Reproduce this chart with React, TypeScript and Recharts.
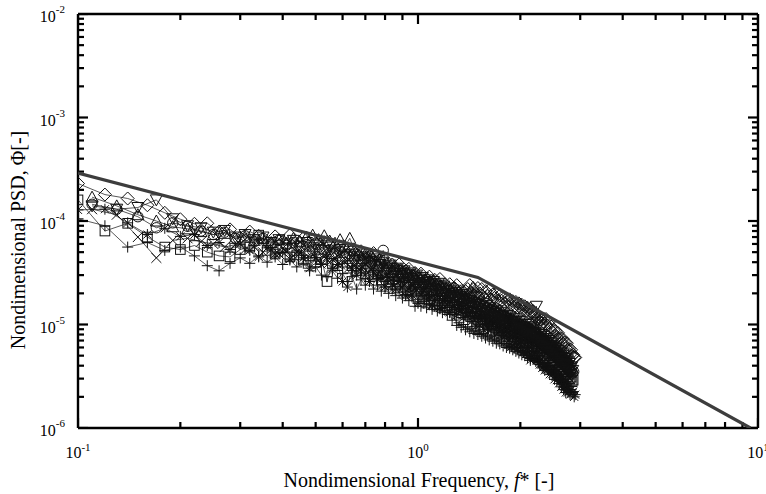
import React from 'react';
import { ComposedChart, Scatter, XAxis, YAxis } from 'recharts';

const FONT = '"Liberation Serif", "Times New Roman", "DejaVu Serif", serif';

// ---------- frequency grids (nondimensional frequency f*) ----------
const freqEven = [0.10,0.12,0.14,0.16,0.18,0.20,0.22,0.24,0.26,0.28,0.30,0.32,0.34,0.36,0.38,0.40,0.42,0.44,0.46,0.48,0.50,0.52,0.54,0.56,0.58,0.60,0.62,0.64,0.66,0.68,0.70,0.72,0.74,0.76,0.78,0.80,0.82,0.84,0.86,0.88,0.90,0.92,0.94,0.96,0.98,1.00,1.02,1.04,1.06,1.08,1.10,1.12,1.14,1.16,1.18,1.20,1.22,1.24,1.26,1.28,1.30,1.32,1.34,1.36,1.38,1.40,1.42,1.44,1.46,1.48,1.50,1.52,1.54,1.56,1.58,1.60,1.62,1.64,1.66,1.68,1.70,1.72,1.74,1.76,1.78,1.80,1.82,1.84,1.86,1.88,1.90,1.92,1.94,1.96,1.98,2.00,2.02,2.04,2.06,2.08,2.10,2.12,2.14,2.16,2.18,2.20,2.22,2.24,2.26,2.28,2.30,2.32,2.34,2.36,2.38,2.40,2.42,2.44,2.46,2.48,2.50,2.52,2.54,2.56,2.58,2.60,2.62,2.64,2.66,2.68,2.70,2.72,2.74,2.76,2.78,2.80,2.82,2.84,2.86,2.88,2.90];
const freqOdd = [0.11,0.13,0.15,0.17,0.19,0.21,0.23,0.25,0.27,0.29,0.31,0.33,0.35,0.37,0.39,0.41,0.43,0.45,0.47,0.49,0.51,0.53,0.55,0.57,0.59,0.61,0.63,0.65,0.67,0.69,0.71,0.73,0.75,0.77,0.79,0.81,0.83,0.85,0.87,0.89,0.91,0.93,0.95,0.97,0.99,1.01,1.03,1.05,1.07,1.09,1.11,1.13,1.15,1.17,1.19,1.21,1.23,1.25,1.27,1.29,1.31,1.33,1.35,1.37,1.39,1.41,1.43,1.45,1.47,1.49,1.51,1.53,1.55,1.57,1.59,1.61,1.63,1.65,1.67,1.69,1.71,1.73,1.75,1.77,1.79,1.81,1.83,1.85,1.87,1.89,1.91,1.93,1.95,1.97,1.99,2.01,2.03,2.05,2.07,2.09,2.11,2.13,2.15,2.17,2.19,2.21,2.23,2.25,2.27,2.29,2.31,2.33,2.35,2.37,2.39,2.41,2.43,2.45,2.47,2.49,2.51,2.53,2.55,2.57,2.59,2.61,2.63,2.65,2.67,2.69,2.71,2.73,2.75,2.77,2.79,2.81,2.83,2.85,2.87,2.89];

// ---------- nondimensional PSD values per series ----------
// on freqEven
const psdDiamond = [2.3e-4,1.8e-4,1.65e-4,1.42e-4,1.2e-4,1.04e-4,9.4e-5,9.5e-5,7.9e-5,8.3e-5,6.9e-5,7.9e-5,7.2e-5,6.1e-5,7.1e-5,6.3e-5,7.3e-5,5.8e-5,6.8e-5,5.05e-5,6.1e-5,5.5e-5,6.3e-5,4.8e-5,5.3e-5,5.7e-5,4.7e-5,5.2e-5,4.0e-5,5.1e-5,4.4e-5,4.6e-5,4.9e-5,3.6e-5,4.0e-5,4.2e-5,3.5e-5,3.8e-5,3.4e-5,3.8e-5,2.95e-5,3.3e-5,3.45e-5,2.85e-5,3.15e-5,2.8e-5,3.1e-5,2.45e-5,2.75e-5,2.9e-5,2.4e-5,2.7e-5,2.4e-5,2.75e-5,2.1e-5,2.45e-5,2.2e-5,2.45e-5,2.0e-5,2.25e-5,2.4e-5,2.0e-5,2.1e-5,1.73e-5,2.1e-5,2.2e-5,2.4e-5,2.0e-5,2.2e-5,2.0e-5,2.25e-5,2.0e-5,2.2e-5,1.8e-5,2.1e-5,1.9e-5,2.15e-5,1.75e-5,1.95e-5,1.8e-5,2.0e-5,1.7e-5,1.9e-5,1.7e-5,1.85e-5,1.6e-5,1.75e-5,1.65e-5,1.75e-5,1.55e-5,1.68e-5,1.5e-5,1.65e-5,1.45e-5,1.6e-5,1.45e-5,1.55e-5,1.4e-5,1.5e-5,1.35e-5,1.45e-5,1.3e-5,1.42e-5,1.28e-5,1.35e-5,1.24e-5,1.22e-5,1.12e-5,1.2e-5,1.07e-5,1.12e-5,1.03e-5,1.14e-5,1.02e-5,1.13e-5,9.8e-6,1.05e-5,9.0e-6,9.6e-6,8.5e-6,8.8e-6,7.8e-6,8.6e-6,7.6e-6,8.3e-6,7.2e-6,7.4e-6,6.6e-6,7.3e-6,6.5e-6,6.7e-6,5.9e-6,6.6e-6,5.7e-6,5.8e-6,5.1e-6,5.7e-6,5.0e-6,5.1e-6,4.8e-6,4.8e-6];
const psdStar = [1.28e-4,1.3e-4,9.6e-5,7.4e-5,8.5e-5,7.1e-5,7.4e-5,5.8e-5,6.2e-5,5.3e-5,6.0e-5,5.2e-5,4.5e-5,5.5e-5,4.8e-5,5.0e-5,4.3e-5,5.0e-5,4.4e-5,3.5e-5,4.4e-5,3.8e-5,4.5e-5,3.45e-5,3.8e-5,2.6e-5,2.3e-5,3.5e-5,3.0e-5,3.5e-5,3.0e-5,2.6e-5,3.2e-5,2.75e-5,2.85e-5,2.3e-5,2.85e-5,2.45e-5,2.2e-5,2.6e-5,2.25e-5,1.9e-5,2.25e-5,1.93e-5,2.25e-5,1.6e-5,1.92e-5,2.1e-5,1.72e-5,1.9e-5,1.54e-5,1.72e-5,1.9e-5,1.44e-5,1.7e-5,1.46e-5,1.72e-5,1.31e-5,1.46e-5,1.53e-5,1.23e-5,1.38e-5,1.52e-5,1.16e-5,1.3e-5,1.19e-5,1.32e-5,1.07e-5,1.2e-5,9.6e-6,1.16e-5,9.9e-6,1.19e-5,8.9e-6,1.08e-5,9.2e-6,1.04e-5,8.9e-6,1.06e-5,7.9e-6,9.6e-6,8.3e-6,9.3e-6,7.4e-6,8.4e-6,7.7e-6,8.6e-6,6.9e-6,7.8e-6,6.1e-6,7.5e-6,6.4e-6,7.3e-6,5.8e-6,6.6e-6,6.0e-6,6.9e-6,5.4e-6,6.2e-6,5.2e-6,6.0e-6,5.4e-6,4.5e-6,5.0e-6,5.5e-6,4.7e-6,5.3e-6,4.5e-6,5.0e-6,4.1e-6,4.55e-6,3.8e-6,3.9e-6,3.6e-6,4.2e-6,3.65e-6,4.0e-6,3.3e-6,3.6e-6,3.3e-6,3.6e-6,2.95e-6,3.2e-6,2.9e-6,3.2e-6,2.7e-6,2.9e-6,2.5e-6,2.65e-6,2.35e-6,2.5e-6,2.2e-6,2.4e-6,2.2e-6,2.35e-6,2.1e-6,2.35e-6,2.2e-6,2.25e-6,2.0e-6,2.1e-6];
const psdSquare = [1.6e-4,8.0e-5,9.5e-5,7.0e-5,5.6e-5,5.3e-5,5.8e-5,5.0e-5,4.6e-5,4.5e-5,5.3e-5,5.6e-5,7.3e-5,5.2e-5,4.8e-5,5.5e-5,4.5e-5,4.7e-5,4.2e-5,4.6e-5,4.0e-5,4.3e-5,2.6e-5,3.9e-5,3.7e-5,4.0e-5,3.5e-5,3.7e-5,3.3e-5,3.5e-5,3.1e-5,4.1e-5,3.0e-5,3.1e-5,2.7e-5,2.9e-5,2.6e-5,2.75e-5,2.4e-5,2.6e-5,3.1e-5,2.3e-5,2.4e-5,2.1e-5,2.2e-5,1.95e-5,2.1e-5,1.85e-5,2.0e-5,1.75e-5,1.9e-5,1.7e-5,1.55e-5,1.8e-5,1.6e-5,1.7e-5,1.5e-5,1.65e-5,1.45e-5,1.55e-5,1.4e-5,1.5e-5,1.3e-5,1.45e-5,1.25e-5,1.35e-5,1.2e-5,1.32e-5,1.15e-5,1.27e-5,1.1e-5,1.2e-5,1.05e-5,9.0e-6,1.13e-5,1.0e-5,1.1e-5,9.8e-6,1.06e-5,9.4e-6,1.02e-5,9.0e-6,9.8e-6,8.7e-6,9.5e-6,8.4e-6,9.2e-6,8.1e-6,8.8e-6,7.9e-6,8.5e-6,7.6e-6,8.3e-6,7.4e-6,8.0e-6,7.2e-6,7.8e-6,6.9e-6,7.5e-6,6.7e-6,7.3e-6,6.5e-6,7.0e-6,6.3e-6,6.8e-6,6.1e-6,6.5e-6,5.9e-6,6.2e-6,5.6e-6,6.0e-6,5.4e-6,5.8e-6,5.2e-6,5.5e-6,5.0e-6,5.3e-6,4.8e-6,5.0e-6,4.5e-6,4.8e-6,4.3e-6,4.5e-6,4.1e-6,4.3e-6,3.9e-6,4.1e-6,3.7e-6,3.9e-6,3.5e-6,3.7e-6,3.3e-6,3.5e-6,3.1e-6,3.3e-6,3.0e-6,3.1e-6,2.8e-6,2.9e-6];
const psdPlus = [1.05e-4,9.0e-5,5.6e-5,6.2e-5,5.2e-5,5.6e-5,4.6e-5,3.7e-5,3.3e-5,3.9e-5,4.4e-5,3.9e-5,4.6e-5,4.0e-5,4.5e-5,3.8e-5,4.2e-5,3.6e-5,3.9e-5,3.3e-5,3.6e-5,3.0e-5,2.9e-5,3.3e-5,2.8e-5,3.1e-5,2.6e-5,2.9e-5,2.2e-5,2.7e-5,2.4e-5,2.6e-5,2.2e-5,2.4e-5,2.1e-5,2.3e-5,2.0e-5,2.2e-5,1.9e-5,2.05e-5,1.8e-5,1.95e-5,1.7e-5,1.85e-5,1.5e-5,1.65e-5,1.5e-5,1.6e-5,1.45e-5,1.55e-5,1.4e-5,1.5e-5,1.35e-5,1.42e-5,1.3e-5,1.37e-5,1.25e-5,1.3e-5,1.1e-5,1.25e-5,9.8e-6,1.04e-5,9.4e-6,1.0e-5,8.9e-6,9.5e-6,8.5e-6,9.2e-6,8.2e-6,8.8e-6,8.0e-6,8.5e-6,7.7e-6,8.2e-6,7.4e-6,7.9e-6,7.1e-6,7.7e-6,6.9e-6,7.4e-6,6.6e-6,7.1e-6,6.5e-6,6.9e-6,6.2e-6,6.6e-6,6.0e-6,6.5e-6,5.9e-6,6.2e-6,5.7e-6,6.0e-6,5.5e-6,5.9e-6,5.3e-6,5.6e-6,5.1e-6,5.5e-6,5.0e-6,5.3e-6,4.8e-6,5.1e-6,4.7e-6,5.0e-6,4.6e-6,4.8e-6,4.4e-6,4.6e-6,4.3e-6,4.5e-6,4.1e-6,4.3e-6,3.9e-6,4.2e-6,3.8e-6,4.0e-6,3.6e-6,3.9e-6,3.5e-6,3.7e-6,3.4e-6,3.6e-6,3.2e-6,3.4e-6,3.1e-6,3.3e-6,3.0e-6,3.1e-6,2.8e-6,2.9e-6,2.7e-6,2.8e-6,2.6e-6,2.7e-6,2.5e-6,2.6e-6];
// on freqOdd
const psdTriDown = [1.4e-4,1.3e-4,1.35e-4,1.6e-4,1.05e-4,9.0e-5,8.6e-5,7.8e-5,8.1e-5,7.0e-5,7.4e-5,6.6e-5,7.0e-5,6.2e-5,6.6e-5,6.0e-5,6.5e-5,5.7e-5,6.2e-5,5.5e-5,6.0e-5,5.2e-5,5.6e-5,5.0e-5,5.3e-5,4.7e-5,5.1e-5,4.5e-5,4.8e-5,4.2e-5,4.5e-5,4.0e-5,4.3e-5,3.8e-5,4.0e-5,3.5e-5,3.75e-5,3.3e-5,3.5e-5,3.1e-5,3.3e-5,2.95e-5,3.15e-5,2.8e-5,3.0e-5,2.65e-5,2.85e-5,2.55e-5,2.7e-5,2.45e-5,2.6e-5,2.3e-5,2.5e-5,2.2e-5,2.35e-5,2.1e-5,2.25e-5,2.0e-5,2.15e-5,1.92e-5,2.05e-5,1.85e-5,1.95e-5,1.77e-5,1.88e-5,1.7e-5,1.8e-5,1.62e-5,1.72e-5,1.56e-5,1.65e-5,1.5e-5,1.6e-5,1.44e-5,1.53e-5,1.38e-5,1.47e-5,1.33e-5,1.41e-5,1.28e-5,1.36e-5,1.23e-5,1.31e-5,1.19e-5,1.26e-5,1.15e-5,1.22e-5,1.11e-5,1.18e-5,1.07e-5,1.14e-5,1.04e-5,1.1e-5,1.0e-5,1.07e-5,9.7e-6,1.03e-5,9.4e-6,1.0e-5,9.1e-6,9.6e-6,8.8e-6,9.3e-6,8.5e-6,9.0e-6,8.2e-6,1.5e-5,1.05e-5,8.3e-6,7.6e-6,8.0e-6,7.3e-6,7.7e-6,7.0e-6,7.3e-6,6.7e-6,7.0e-6,6.3e-6,6.6e-6,6.0e-6,6.2e-6,5.7e-6,5.9e-6,5.4e-6,5.6e-6,5.1e-6,5.3e-6,4.8e-6,5.0e-6,4.5e-6,4.7e-6,4.3e-6,4.4e-6,4.0e-6,4.2e-6,3.8e-6,3.9e-6,3.6e-6];
const psdCircle = [1.45e-4,1.3e-4,1.1e-4,8.6e-5,9.6e-5,8.9e-5,8.0e-5,7.4e-5,7.8e-5,6.8e-5,7.2e-5,6.3e-5,6.8e-5,6.0e-5,6.5e-5,5.8e-5,6.2e-5,5.5e-5,5.9e-5,5.2e-5,5.6e-5,5.0e-5,5.3e-5,4.8e-5,5.1e-5,4.5e-5,4.8e-5,4.3e-5,4.6e-5,4.1e-5,4.4e-5,3.9e-5,4.1e-5,3.6e-5,5.2e-5,3.4e-5,3.6e-5,3.2e-5,3.4e-5,3.0e-5,3.2e-5,2.85e-5,3.05e-5,2.7e-5,2.9e-5,2.55e-5,2.75e-5,2.45e-5,2.6e-5,2.35e-5,2.5e-5,2.2e-5,2.4e-5,2.1e-5,2.25e-5,2.0e-5,2.15e-5,1.9e-5,2.05e-5,1.83e-5,1.95e-5,1.75e-5,1.86e-5,1.68e-5,1.78e-5,1.6e-5,1.7e-5,1.54e-5,1.63e-5,1.48e-5,1.57e-5,1.42e-5,1.5e-5,1.36e-5,1.45e-5,1.31e-5,1.39e-5,1.26e-5,1.34e-5,1.21e-5,1.29e-5,1.17e-5,1.24e-5,1.13e-5,1.2e-5,1.09e-5,1.15e-5,1.05e-5,1.11e-5,1.01e-5,1.07e-5,9.8e-6,1.04e-5,9.5e-6,1.0e-5,9.2e-6,9.7e-6,8.9e-6,9.4e-6,8.6e-6,9.1e-6,8.3e-6,8.8e-6,8.0e-6,8.5e-6,7.7e-6,8.1e-6,7.4e-6,7.8e-6,7.1e-6,7.5e-6,6.8e-6,7.2e-6,6.5e-6,6.9e-6,6.2e-6,6.5e-6,5.9e-6,6.2e-6,5.6e-6,5.9e-6,5.3e-6,5.6e-6,5.0e-6,5.3e-6,4.8e-6,5.0e-6,4.5e-6,4.7e-6,4.3e-6,4.4e-6,4.0e-6,4.2e-6,3.8e-6,3.9e-6,3.6e-6,3.7e-6,3.4e-6,3.5e-6];
const psdTriUp = [1.7e-4,1.4e-4,1.15e-4,1.0e-4,8.8e-5,8.4e-5,7.9e-5,7.4e-5,7.6e-5,6.8e-5,7.0e-5,6.5e-5,6.8e-5,6.2e-5,6.6e-5,6.1e-5,6.8e-5,6.3e-5,7.0e-5,7.3e-5,6.6e-5,7.2e-5,6.4e-5,6.1e-5,6.6e-5,5.7e-5,6.8e-5,5.2e-5,4.7e-5,4.9e-5,4.3e-5,4.6e-5,4.0e-5,4.2e-5,3.7e-5,3.9e-5,3.45e-5,3.65e-5,3.2e-5,3.4e-5,3.0e-5,3.2e-5,2.85e-5,3.0e-5,2.7e-5,2.85e-5,2.55e-5,2.7e-5,2.45e-5,2.6e-5,2.3e-5,2.45e-5,2.2e-5,2.35e-5,2.1e-5,2.25e-5,2.0e-5,2.15e-5,1.92e-5,2.05e-5,1.84e-5,1.96e-5,1.77e-5,1.88e-5,1.7e-5,1.8e-5,1.63e-5,2.3e-5,1.66e-5,1.5e-5,1.6e-5,1.45e-5,1.54e-5,1.39e-5,1.48e-5,1.34e-5,1.42e-5,1.29e-5,1.37e-5,1.24e-5,1.32e-5,1.19e-5,1.27e-5,1.15e-5,1.22e-5,1.11e-5,1.18e-5,1.07e-5,1.14e-5,1.03e-5,1.1e-5,1.0e-5,1.06e-5,9.7e-6,1.02e-5,9.4e-6,9.9e-6,9.1e-6,9.6e-6,8.8e-6,9.3e-6,8.5e-6,9.0e-6,8.2e-6,8.6e-6,7.9e-6,8.3e-6,7.6e-6,8.0e-6,7.3e-6,7.6e-6,7.0e-6,7.3e-6,6.7e-6,7.0e-6,6.4e-6,6.7e-6,6.1e-6,6.3e-6,5.8e-6,6.0e-6,5.5e-6,5.7e-6,5.2e-6,5.4e-6,4.9e-6,5.1e-6,4.7e-6,4.8e-6,4.4e-6,4.6e-6,4.2e-6,4.3e-6,4.0e-6,4.1e-6,3.7e-6,3.8e-6];
const psdCross = [1.3e-4,1.15e-4,7.0e-5,4.4e-5,6.5e-5,6.8e-5,6.3e-5,6.0e-5,5.6e-5,5.9e-5,5.3e-5,5.6e-5,5.0e-5,5.3e-5,4.8e-5,5.1e-5,4.6e-5,4.9e-5,4.4e-5,4.7e-5,4.2e-5,4.5e-5,4.0e-5,4.3e-5,3.8e-5,4.0e-5,3.6e-5,3.8e-5,3.4e-5,3.6e-5,3.2e-5,3.4e-5,3.0e-5,3.2e-5,2.85e-5,3.0e-5,2.7e-5,2.85e-5,2.55e-5,2.7e-5,2.4e-5,2.55e-5,2.3e-5,2.4e-5,2.15e-5,2.3e-5,2.05e-5,2.2e-5,1.95e-5,2.1e-5,1.85e-5,2.0e-5,1.78e-5,1.9e-5,1.7e-5,1.8e-5,1.62e-5,1.73e-5,1.55e-5,1.65e-5,1.48e-5,1.58e-5,1.42e-5,1.51e-5,1.36e-5,1.45e-5,1.3e-5,1.39e-5,1.25e-5,1.33e-5,1.2e-5,1.28e-5,1.15e-5,1.23e-5,1.1e-5,1.18e-5,1.06e-5,1.13e-5,1.02e-5,1.09e-5,9.8e-6,1.05e-5,9.4e-6,1.0e-5,9.1e-6,9.6e-6,8.8e-6,9.3e-6,8.5e-6,9.0e-6,8.2e-6,8.7e-6,7.9e-6,8.4e-6,7.7e-6,8.1e-6,7.4e-6,7.8e-6,7.2e-6,7.5e-6,6.9e-6,7.3e-6,6.7e-6,7.0e-6,6.4e-6,6.8e-6,6.2e-6,6.5e-6,5.9e-6,6.2e-6,5.7e-6,5.9e-6,5.4e-6,5.7e-6,5.2e-6,5.4e-6,4.9e-6,5.1e-6,4.7e-6,4.9e-6,4.4e-6,4.6e-6,4.2e-6,4.4e-6,4.0e-6,4.1e-6,3.8e-6,3.9e-6,3.6e-6,3.7e-6,3.4e-6,3.5e-6,3.2e-6,3.3e-6,3.0e-6];

// ---------- envelope (upper bound) line ----------
const envFreq = [0.1, 1.5, 9.5];
const envPsd = [2.9e-4, 2.85e-5, 1.0e-6];

// ---------- axes & ticks ----------
const xDomain = [0.1, 10];
const yDomain = [1e-6, 1e-2];
const xTicks = [0.1,0.2,0.3,0.4,0.5,0.6,0.7,0.8,0.9,1,2,3,4,5,6,7,8,9,10];
const xMajorTicks = [0.1, 1, 10];
const xMajorExps = ['-1', '0', '1'];
const yTicks = [1e-6,2e-6,3e-6,4e-6,5e-6,6e-6,7e-6,8e-6,9e-6,1e-5,2e-5,3e-5,4e-5,5e-5,6e-5,7e-5,8e-5,9e-5,1e-4,2e-4,3e-4,4e-4,5e-4,6e-4,7e-4,8e-4,9e-4,1e-3,2e-3,3e-3,4e-3,5e-3,6e-3,7e-3,8e-3,9e-3,1e-2];
const yMajorTicks = [1e-6, 1e-5, 1e-4, 1e-3, 1e-2];
const yMajorExps = ['-6', '-5', '-4', '-3', '-2'];

const toPoints = (f: number[], p: number[]) => p.map((v, i) => ({ f: f[i], psd: v }));

const majorExp = (v: number, majors: number[], labels: string[]): string | null => {
  for (let i = 0; i < majors.length; i++) {
    if (Math.abs(v / majors[i] - 1) < 1e-6) return labels[i];
  }
  return null;
};

const xMinor = xTicks.filter((v) => majorExp(v, xMajorTicks, xMajorExps) === null);
const yMinor = yTicks.filter((v) => majorExp(v, yMajorTicks, yMajorExps) === null);

// tick-mark anchors on the four frame edges, positioned by the chart's own log scales
const tickSets = [
  { key: 'bMaj', side: 'bottom', len: 10, data: xMajorTicks.map((v) => ({ f: v, psd: yDomain[0] })) },
  { key: 'bMin', side: 'bottom', len: 6, data: xMinor.map((v) => ({ f: v, psd: yDomain[0] })) },
  { key: 'tMaj', side: 'top', len: 10, data: xMajorTicks.map((v) => ({ f: v, psd: yDomain[1] })) },
  { key: 'tMin', side: 'top', len: 6, data: xMinor.map((v) => ({ f: v, psd: yDomain[1] })) },
  { key: 'lMaj', side: 'left', len: 10, data: yMajorTicks.map((v) => ({ f: xDomain[0], psd: v })) },
  { key: 'lMin', side: 'left', len: 6, data: yMinor.map((v) => ({ f: xDomain[0], psd: v })) },
  { key: 'rMaj', side: 'right', len: 10, data: yMajorTicks.map((v) => ({ f: xDomain[1], psd: v })) },
  { key: 'rMin', side: 'right', len: 6, data: yMinor.map((v) => ({ f: xDomain[1], psd: v })) },
];

const TICK_W = 2.2;

const makeTickShape = (side: string, len: number) => (props: any) => {
  const { cx, cy } = props;
  if (cx == null || cy == null) return <g />;
  let d = '';
  if (side === 'bottom') d = `M${cx},${cy}V${cy - len}`;
  else if (side === 'top') d = `M${cx},${cy}V${cy + len}`;
  else if (side === 'left') d = `M${cx},${cy}H${cx + len}`;
  else d = `M${cx},${cy}H${cx - len}`;
  return <path d={d} stroke="#000" strokeWidth={TICK_W} fill="none" />;
};

const INK = '#111';
const MW = 1.0;

type Kind = 'diamond' | 'triDown' | 'circle' | 'triUp' | 'square' | 'plus' | 'cross' | 'star' | 'none';

const makeShape = (kind: Kind) => (props: any) => {
  const { cx, cy } = props;
  if (cx == null || cy == null || kind === 'none') return <g />;
  const common = { fill: 'none', stroke: INK, strokeWidth: MW };
  switch (kind) {
    case 'diamond':
      return <path d={`M${cx},${cy - 6.5}L${cx + 6.5},${cy}L${cx},${cy + 6.5}L${cx - 6.5},${cy}Z`} {...common} />;
    case 'triDown':
      return <path d={`M${cx - 6},${cy - 5}L${cx + 6},${cy - 5}L${cx},${cy + 6}Z`} {...common} />;
    case 'triUp':
      return <path d={`M${cx},${cy - 6}L${cx + 6},${cy + 5}L${cx - 6},${cy + 5}Z`} {...common} />;
    case 'circle':
      return <circle cx={cx} cy={cy} r={5.2} {...common} />;
    case 'square':
      return <rect x={cx - 4.8} y={cy - 4.8} width={9.6} height={9.6} {...common} />;
    case 'plus':
      return <path d={`M${cx - 5.5},${cy}H${cx + 5.5}M${cx},${cy - 5.5}V${cy + 5.5}`} {...common} />;
    case 'cross':
      return <path d={`M${cx - 5},${cy - 5}L${cx + 5},${cy + 5}M${cx - 5},${cy + 5}L${cx + 5},${cy - 5}`} {...common} />;
    case 'star':
      return (
        <path
          d={`M${cx - 5.5},${cy}H${cx + 5.5}M${cx},${cy - 5.5}V${cy + 5.5}M${cx - 4},${cy - 4}L${cx + 4},${cy + 4}M${cx - 4},${cy + 4}L${cx + 4},${cy - 4}`}
          {...common}
        />
      );
    default:
      return <g />;
  }
};

const seriesList: { key: string; kind: Kind; data: { f: number; psd: number }[] }[] = [
  { key: 'star', kind: 'star', data: toPoints(freqEven, psdStar) },
  { key: 'cross', kind: 'cross', data: toPoints(freqOdd, psdCross) },
  { key: 'plus', kind: 'plus', data: toPoints(freqEven, psdPlus) },
  { key: 'square', kind: 'square', data: toPoints(freqEven, psdSquare) },
  { key: 'triUp', kind: 'triUp', data: toPoints(freqOdd, psdTriUp) },
  { key: 'circle', kind: 'circle', data: toPoints(freqOdd, psdCircle) },
  { key: 'triDown', kind: 'triDown', data: toPoints(freqOdd, psdTriDown) },
  { key: 'diamond', kind: 'diamond', data: toPoints(freqEven, psdDiamond) },
];

const envData = toPoints(envFreq, envPsd);

const XTickLabel = (props: any) => {
  const { x, y, payload } = props;
  const exp = majorExp(payload.value, xMajorTicks, xMajorExps);
  if (exp === null) return <g />;
  return (
    <text x={x} y={y + 30} textAnchor="middle" fontFamily={FONT} fontSize={16} fill="#000">
      10<tspan dy={-7} fontSize={11}>{exp}</tspan>
    </text>
  );
};

const YTickLabel = (props: any) => {
  const { x, y, payload } = props;
  const exp = majorExp(payload.value, yMajorTicks, yMajorExps);
  if (exp === null) return <g />;
  return (
    <text x={x - 13} y={y + 8} textAnchor="end" fontFamily={FONT} fontSize={16} fill="#000">
      10<tspan dy={-9} fontSize={11}>{exp}</tspan>
    </text>
  );
};

const AXIS_LINE = { stroke: '#000', strokeWidth: 2.4 };

export default function App() {
  return (
    <div style={{ position: 'absolute', left: 0, top: 0, width: 766, height: 494, background: '#fff' }}>
      <ComposedChart width={766} height={494} margin={{ top: 13, right: 7, bottom: 0, left: 0 }}>
        <XAxis
          xAxisId="bottom"
          dataKey="f"
          type="number"
          scale="log"
          domain={xDomain}
          allowDataOverflow
          ticks={xTicks}
          interval={0}
          tickLine={false}
          tickSize={0}
          tickMargin={0}
          tick={XTickLabel}
          axisLine={AXIS_LINE}
          height={66}
          orientation="bottom"
        />
        <XAxis
          xAxisId="top"
          dataKey="f"
          type="number"
          scale="log"
          domain={xDomain}
          allowDataOverflow
          tickLine={false}
          tick={false}
          axisLine={AXIS_LINE}
          height={1}
          orientation="top"
        />
        <YAxis
          yAxisId="left"
          dataKey="psd"
          type="number"
          scale="log"
          domain={yDomain}
          allowDataOverflow
          ticks={yTicks}
          interval={0}
          tickLine={false}
          tickSize={0}
          tickMargin={0}
          tick={YTickLabel}
          axisLine={AXIS_LINE}
          width={78}
          orientation="left"
        />
        <YAxis
          yAxisId="right"
          dataKey="psd"
          type="number"
          scale="log"
          domain={yDomain}
          allowDataOverflow
          tickLine={false}
          tick={false}
          axisLine={AXIS_LINE}
          width={1}
          orientation="right"
        />
        {tickSets.map((t) => (
          <Scatter
            key={t.key}
            name={t.key}
            xAxisId="bottom"
            yAxisId="left"
            data={t.data}
            shape={makeTickShape(t.side, t.len)}
            isAnimationActive={false}
          />
        ))}
        {seriesList.map((s) => (
          <Scatter
            key={s.key}
            name={s.key}
            xAxisId="bottom"
            yAxisId="left"
            data={s.data}
            line={{ stroke: INK, strokeWidth: 0.7 }}
            lineType="joint"
            shape={makeShape(s.kind)}
            isAnimationActive={false}
          />
        ))}
        <Scatter
          name="envelope"
          xAxisId="top"
          yAxisId="right"
          data={envData}
          line={{ stroke: '#3d3d3d', strokeWidth: 3.2 }}
          lineType="joint"
          shape={makeShape('none')}
          isAnimationActive={false}
        />
      </ComposedChart>
      <svg width={766} height={494} style={{ position: 'absolute', left: 0, top: 0, pointerEvents: 'none' }}>
        <text x={419} y={487} textAnchor="middle" fontFamily={FONT} fontSize={20} fill="#000">
          Nondimensional Frequency, <tspan fontStyle="italic">f</tspan>* [-]
        </text>
        <text
          x={0}
          y={0}
          transform="translate(25,240) rotate(-90)"
          textAnchor="middle"
          fontFamily={FONT}
          fontSize={20}
          fill="#000"
        >
          Nondimensional PSD, Φ[-]
        </text>
      </svg>
    </div>
  );
}
